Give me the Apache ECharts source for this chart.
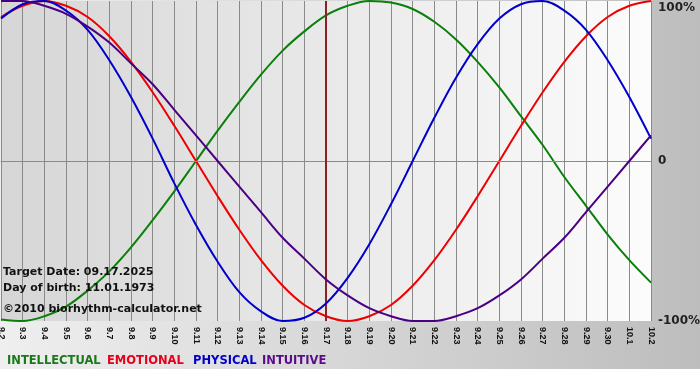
<!DOCTYPE html>
<html>
<head>
<meta charset="utf-8">
<script src="https://cdn.jsdelivr.net/npm/echarts@6/dist/echarts.min.js"></script>
<style>
  html, body { margin: 0; padding: 0; background: #fff; }
  #chart { width: 700px; height: 380px;
    background: linear-gradient(to right, #efefef, #bdbdbd) 0 0 / 100% 369px no-repeat, #fff; }
</style>
</head>
<body>
<div id="chart"></div>
<script>
const categories = ['9.2','9.3','9.4','9.5','9.6','9.7','9.8','9.9','9.10','9.11','9.12','9.13','9.14','9.15','9.16','9.17','9.18','9.19','9.20','9.21','9.22','9.23','9.24','9.25','9.26','9.27','9.28','9.29','9.30','10.1','10.2'];

const intellectual = [-0.99,-1.00,-0.97,-0.91,-0.81,-0.69,-0.54,-0.37,-0.19,0.00,0.19,0.37,0.54,0.69,0.81,0.91,0.97,1.00,0.99,0.95,0.87,0.76,0.62,0.46,0.28,0.10,-0.10,-0.28,-0.46,-0.62,-0.76];
const emotional    = [0.90,0.97,1.00,0.97,0.90,0.78,0.62,0.43,0.22,0.00,-0.22,-0.43,-0.62,-0.78,-0.90,-0.97,-1.00,-0.97,-0.90,-0.78,-0.62,-0.43,-0.22,0.00,0.22,0.43,0.62,0.78,0.90,0.97,1.00];
const physical     = [0.89,0.98,1.00,0.94,0.82,0.63,0.40,0.14,-0.14,-0.40,-0.63,-0.82,-0.94,-1.00,-0.98,-0.89,-0.73,-0.52,-0.27,0.00,0.27,0.52,0.73,0.89,0.98,1.00,0.94,0.82,0.63,0.40,0.14];
const intuitive    = [1.00,1.00,0.97,0.92,0.84,0.74,0.61,0.48,0.32,0.16,0.00,-0.16,-0.32,-0.48,-0.61,-0.74,-0.84,-0.92,-0.97,-1.00,-1.00,-0.97,-0.92,-0.84,-0.74,-0.61,-0.48,-0.32,-0.16,0.00,0.16];

const seriesNames = ['INTELLECTUAL','EMOTIONAL','PHYSICAL','INTUITIVE'];
const yTickValues = [-1, 0, 1];
const yTickLabels = ['-100%', '0', '100%'];
const targetCategory = '9.17';
const infoLines = ['Target Date: 09.17.2025', 'Day of birth: 11.01.1973', '\u00A92010 biorhythm-calculator.net'];

const colors = ['#0a800a', '#ee0000', '#0000cc', '#4b0082'];
const legendColors = ['#1a7a1a', '#e8001a', '#0000cc', '#5a0a8a'];
const legendX = [7, 107, 193, 262];
const seriesData = [intellectual, emotional, physical, intuitive];

const chart = echarts.init(document.getElementById('chart'), null, { renderer: 'canvas' });

const series = seriesNames.map((name, k) => ({
  name: name,
  type: 'line',
  data: seriesData[k],
  smooth: 0.35,
  showSymbol: false,
  symbol: 'none',
  lineStyle: { color: colors[k], width: 2 },
  itemStyle: { color: colors[k] },
  z: 3 + k,
  animation: false
}));

series.push({
  name: 'refs',
  type: 'line',
  data: [],
  silent: true,
  z: 2,
  markLine: {
    symbol: 'none',
    silent: true,
    animation: false,
    label: { show: false },
    data: [
      { yAxis: 0, lineStyle: { color: '#8a8a8a', width: 1, type: 'solid' } },
      { xAxis: targetCategory, lineStyle: { color: '#8b2222', width: 2, type: 'solid' } }
    ]
  }
});

chart.setOption({
  animation: false,
  backgroundColor: 'transparent',
  grid: {
    left: 1, right: 49, top: 1, bottom: 59,
    containLabel: false,
    outerBoundsMode: 'none',
    show: true,
    borderWidth: 0,
    backgroundColor: new echarts.graphic.LinearGradient(0, 0, 1, 0, [
      { offset: 0, color: '#d6d6d6' },
      { offset: 1, color: '#fcfcfc' }
    ])
  },
  xAxis: {
    type: 'category',
    data: categories,
    boundaryGap: false,
    axisLine: { show: true, lineStyle: { color: '#8a8a8a', width: 1 } },
    axisTick: { show: true, interval: 0, length: 4, lineStyle: { color: '#8a8a8a' } },
    axisLabel: {
      interval: 0, rotate: -90, margin: 6,
      color: '#111', fontFamily: 'Liberation Sans', fontWeight: 'bold', fontSize: 9
    },
    splitLine: { show: true, interval: 0, lineStyle: { color: '#8a8a8a', width: 1 } }
  },
  yAxis: {
    type: 'value',
    position: 'right',
    min: -1, max: 1, interval: 1,
    axisLine: { show: false },
    axisTick: { show: false },
    splitLine: { show: false },
    axisLabel: {
      margin: 7,
      color: '#222', fontFamily: 'DejaVu Sans', fontWeight: 'bold', fontSize: 12,
      verticalAlignMaxLabel: 'top',
      padding: [1, 0, 0, 0],
      formatter: v => { const i = yTickValues.indexOf(v); return i >= 0 ? yTickLabels[i] : ''; }
    }
  },
  graphic: [
    ...infoLines.map((t, i) => ({
      type: 'text', left: 3, top: [267, 283, 304][i], z: 100, silent: true,
      style: { text: t, fill: '#111', font: 'bold 11px "DejaVu Sans"' }
    })),
    ...seriesNames.map((n, k) => ({
      type: 'text', left: legendX[k], top: 355, z: 100, silent: true,
      style: { text: n, fill: legendColors[k], font: 'bold 11.5px "DejaVu Sans"' }
    }))
  ],
  series: series
});
</script>
</body>
</html>
